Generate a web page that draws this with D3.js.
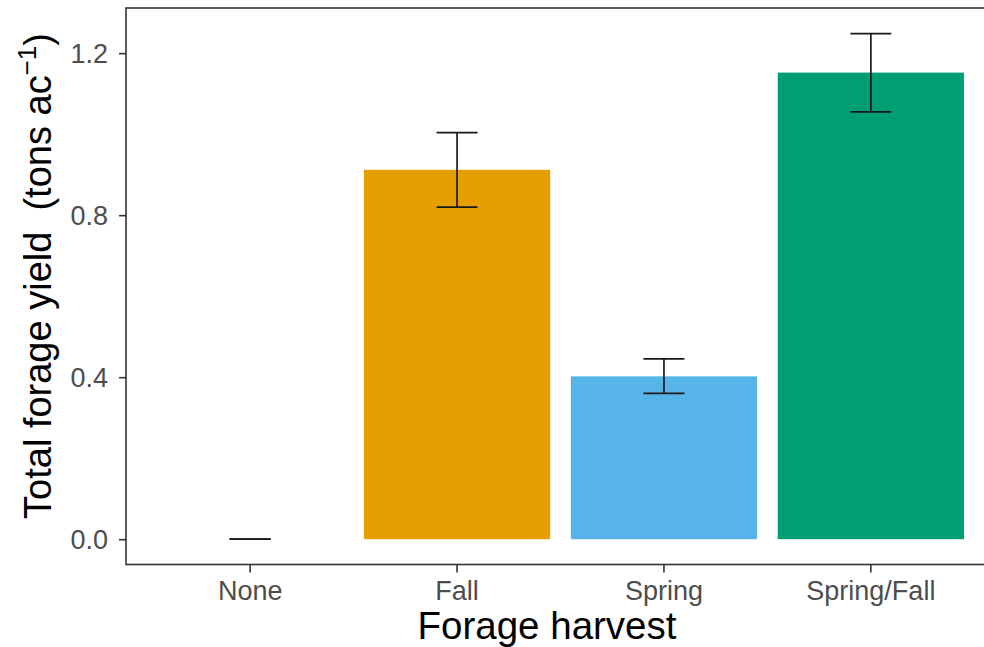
<!DOCTYPE html>
<html lang="en">
<head>
<meta charset="UTF-8">
<title>Forage yield</title>
<script src="https://d3js.org/d3.v7.min.js"></script>
<style>
    html, body { margin: 0; padding: 0; background: #fff; overflow: hidden; }
    svg { display: block; font-family: "Liberation Sans", Arial, sans-serif; }
    .tick text { fill: #4d4d4d; font-size: 27px; }
    .tick line { stroke: #333; stroke-width: 1.6; }
</style>
</head>
<body>
<div id="chart"></div>
<script>
    var categories = ['None', 'Fall', 'Spring', 'Spring/Fall'];
    var yields = [0, 0.912, 0.402, 1.152];
    var errLow = [0, 0.820, 0.360, 1.055];
    var errHigh = [0, 1.004, 0.445, 1.248];
    var colors = ['#999999', '#E69F00', '#56B4E9', '#009E73'];
    var yTicks = [0.0, 0.4, 0.8, 1.2];

    var width = 984, height = 647;
    var panelL = 126, panelT = 8, panelR = 995, panelB = 564.5;

    var data = categories.map(function (c, i) {
        return { cat: c, y: yields[i], lo: errLow[i], hi: errHigh[i], col: colors[i] };
    });

    var svg = d3.select('#chart').append('svg')
        .attr('width', width)
        .attr('height', height);

    // ggplot-like discrete expansion (0.6 step on each side)
    var x = d3.scaleBand()
        .domain(categories)
        .range([panelL, panelR])
        .paddingInner(0.1)
        .paddingOuter(0.15);

    var y = d3.scaleLinear()
        .domain([-0.0625, 1.3115])
        .range([panelB, panelT]);

    // bars
    svg.append('g').selectAll('rect')
        .data(data.filter(function (d) { return d.y > 0; }))
        .enter().append('rect')
        .attr('x', function (d) { return x(d.cat); })
        .attr('width', x.bandwidth())
        .attr('y', function (d) { return y(d.y); })
        .attr('height', function (d) { return y(0) - y(d.y); })
        .attr('fill', function (d) { return d.col; });

    // error bars
    var ew = 20.5;
    var eb = svg.append('g').attr('stroke', '#1a1a1a').attr('stroke-width', 1.7).attr('fill', 'none');
    data.forEach(function (d) {
        var cx = x(d.cat) + x.bandwidth() / 2;
        eb.append('line').attr('x1', cx - ew).attr('x2', cx + ew).attr('y1', y(d.hi)).attr('y2', y(d.hi));
        eb.append('line').attr('x1', cx - ew).attr('x2', cx + ew).attr('y1', y(d.lo)).attr('y2', y(d.lo));
        if (d.hi > d.lo) {
            eb.append('line').attr('x1', cx).attr('x2', cx).attr('y1', y(d.hi)).attr('y2', y(d.lo));
        }
    });

    // panel border
    svg.append('rect')
        .attr('x', panelL).attr('y', panelT)
        .attr('width', panelR - panelL).attr('height', panelB - panelT)
        .attr('fill', 'none').attr('stroke', '#333').attr('stroke-width', 1.6);

    var yaxis = d3.axisLeft(y)
        .tickValues(yTicks)
        .tickFormat(d3.format('.1f'))
        .tickSize(7).tickPadding(11);
    svg.append('g')
        .attr('transform', 'translate(' + panelL + ',0)')
        .call(yaxis)
        .call(function (g) { g.select('.domain').remove(); })
        .selectAll('.tick text').attr('dy', '0.36em');

    var xaxis = d3.axisBottom(x).tickSize(8).tickPadding(9);
    svg.append('g')
        .attr('transform', 'translate(0,' + panelB + ')')
        .call(xaxis)
        .call(function (g) { g.select('.domain').remove(); })
        .selectAll('.tick text').attr('dy', '0.7em');

    // axis titles
    svg.append('text')
        .attr('x', 547).attr('y', 639)
        .attr('text-anchor', 'middle')
        .attr('font-size', 38.5)
        .attr('fill', '#000')
        .text('Forage harvest');

    var yt = svg.append('text')
        .attr('transform', 'translate(51,276) rotate(-90)')
        .attr('text-anchor', 'middle')
        .attr('font-size', 38)
        .attr('fill', '#000')
        .style('white-space', 'pre');
    yt.append('tspan').text('Total forage yield  (tons ac');
    yt.append('tspan').attr('dy', -15).attr('font-size', 26).text('\u22121');
    yt.append('tspan').attr('dy', 15).text(')');
</script>
</body>
</html>
